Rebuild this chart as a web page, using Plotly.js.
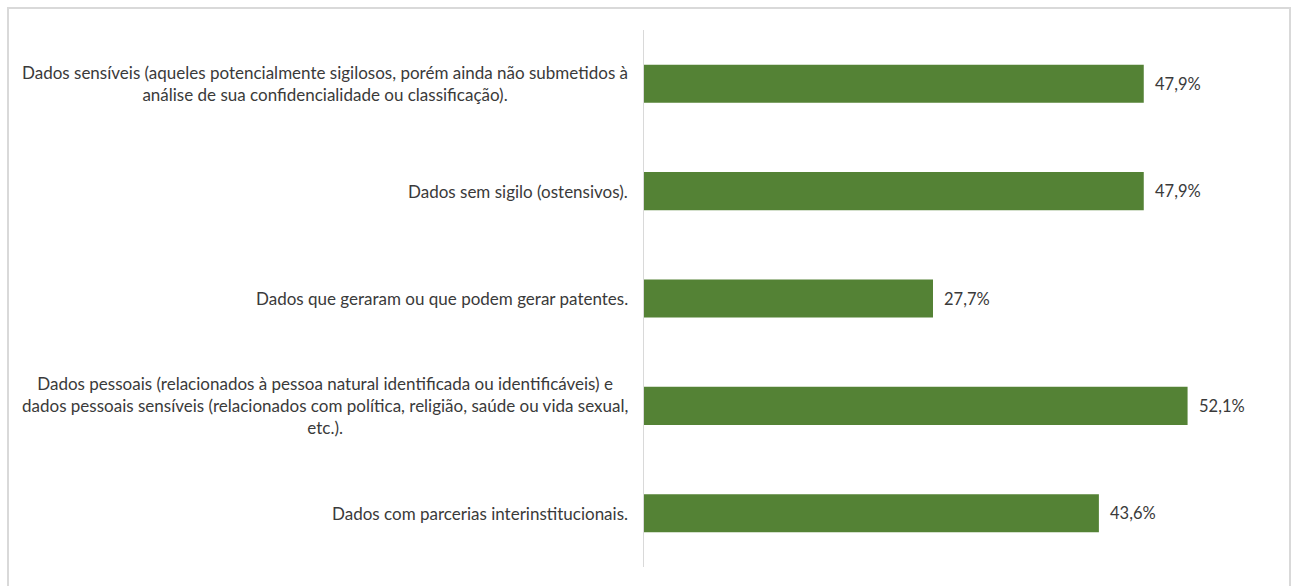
<!DOCTYPE html>
<html>
<head>
<meta charset="utf-8">
<script src="https://cdn.plot.ly/plotly-3.0.1.min.js"></script>
<style>
  html, body { margin: 0; padding: 0; background: #ffffff; }
  #wrap { position: relative; width: 1296px; height: 586px; overflow: hidden; }
  #chart { position: absolute; left: 0; top: 0; width: 1296px; height: 586px; }
  #frame { position: absolute; left: 7px; top: 7px; width: 1284px; height: 590px;
           border: 2px solid #d9d9d9; box-sizing: border-box; pointer-events: none; }
</style>
</head>
<body>
<div id="wrap">
  <div id="chart"></div>
  <div id="frame"></div>
</div>
<script>
const categories = [
  "Dados sensíveis (aqueles potencialmente sigilosos, porém ainda não submetidos à<br>análise de sua confidencialidade ou classificação).",
  "Dados sem sigilo (ostensivos).",
  "Dados que geraram ou que podem gerar patentes.",
  "Dados pessoais (relacionados à pessoa natural identificada ou identificáveis) e<br>dados pessoais sensíveis (relacionados com política, religião, saúde ou vida sexual,<br>etc.).",
  "Dados com parcerias interinstitucionais."
];
const values = [47.9, 47.9, 27.7, 52.1, 43.6];
const valueLabels = values.map(v => v.toFixed(1).replace('.', ',') + '%');

const FONT = 'Lato, "Open Sans", sans-serif';
const TXT = '#3a3a3a';

const trace = {
  type: 'bar',
  orientation: 'h',
  x: values,
  y: categories,
  marker: { color: '#548235', line: { color: '#548235', width: 0 } },
  width: 0.355,
  hoverinfo: 'none'
};

const annotations = [];
categories.forEach((c, i) => {
  annotations.push({
    xref: 'paper', yref: 'y', x: 0, y: c,
    text: c, showarrow: false, xanchor: 'right', yanchor: 'middle',
    align: 'center', xshift: -14,
    font: { family: FONT, size: 17, color: TXT }
  });
  annotations.push({
    xref: 'x', yref: 'y', x: values[i], y: c,
    text: valueLabels[i], showarrow: false, xanchor: 'left', yanchor: 'middle',
    xshift: 9,
    font: { family: FONT, size: 16.5, color: TXT }
  });
});

const layout = {
  width: 1296, height: 586,
  margin: { l: 644, r: 26, t: 30, b: 19, pad: 0 },
  paper_bgcolor: '#ffffff', plot_bgcolor: '#ffffff',
  showlegend: false,
  separators: ',.',
  font: { family: FONT, size: 17, color: TXT },
  xaxis: { range: [0, 60], visible: false, fixedrange: true },
  yaxis: {
    type: 'category', categoryorder: 'array', categoryarray: categories,
    autorange: 'reversed', showticklabels: false, ticks: '',
    showline: true, linecolor: '#d9d9d9', linewidth: 1.5, showgrid: false,
    zeroline: false, fixedrange: true
  },
  annotations: annotations
};

Plotly.newPlot('chart', [trace], layout, { displayModeBar: false, staticPlot: true });
</script>
</body>
</html>
